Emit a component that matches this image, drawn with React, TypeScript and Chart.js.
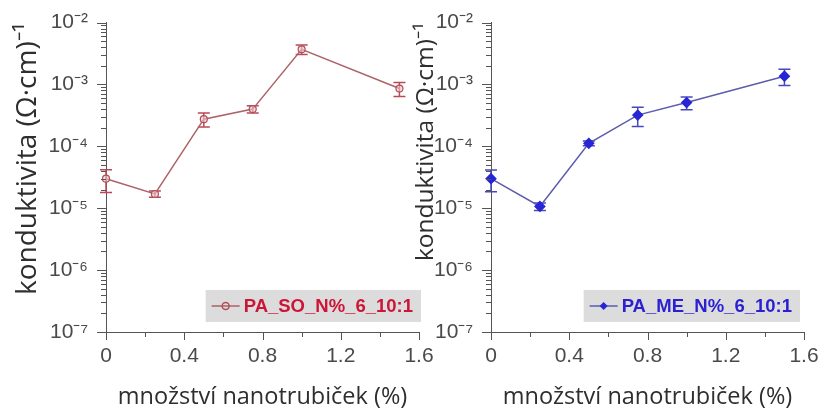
import React, { useEffect, useRef } from 'react';
import { Chart, registerables } from 'chart.js';

Chart.register(...registerables);

// ---- data ----
const xValues = [0, 0.25, 0.5, 0.75, 1.0, 1.5];
const soValues = [3.0e-5, 1.7e-5, 2.75e-4, 4.0e-4, 3.7e-3, 8.6e-4];
const soErrors = [1.2e-5, 0.2e-5, 0.7e-4, 0.55e-4, 0.65e-3, 2.2e-4];
const meValues = [3.0e-5, 1.07e-5, 1.12e-4, 3.2e-4, 5.1e-4, 1.36e-3];
const meErrors = [1.15e-5, 0.15e-5, 0.1e-4, 1.1e-4, 1.2e-4, 0.4e-3];
const soLabel = 'PA_SO_N%_6_10:1';
const meLabel = 'PA_ME_N%_6_10:1';
const xMajorTicks = [0, 0.4, 0.8, 1.2, 1.6];
const xMajorLabels = ['0', '0.4', '0.8', '1.2', '1.6'];
const xMinorTicks = [0.2, 0.6, 1.0, 1.4];
const yDecades = [-7, -6, -5, -4, -3, -2];
const yMinorMultipliers = [2, 3, 4, 5, 6, 7, 8, 9];
const yTitle = 'konduktivita (Ω·cm)⁻¹';
const xTitle = 'množství nanotrubiček (%)';

const SUP: Record<string, string> = {
  '-': '⁻', '0': '⁰', '1': '¹', '2': '²', '3': '³', '4': '⁴',
  '5': '⁵', '6': '⁶', '7': '⁷', '8': '⁸', '9': '⁹',
};
const sup = (n: number) => String(n).split('').map((c) => SUP[c] || c).join('');

const AXIS_COLOR = '#555555';
const TICK_FONT = { family: '"Liberation Sans", Arial, sans-serif', size: 21 };
const X_TITLE_FONT = { family: '"Open Sans", sans-serif', size: 23.5 };

const errorBarsPlugin = {
  id: 'errorBars',
  beforeDatasetsDraw(chart: any, _args: any, opts: any) {
    const { ctx, scales } = chart;
    const meta = chart.getDatasetMeta(0);
    const data = chart.data.datasets[0].data;
    ctx.save();
    ctx.strokeStyle = opts.color;
    ctx.lineWidth = 1.5;
    data.forEach((p: any, i: number) => {
      const err = opts.errors[i];
      const x = meta.data[i].x;
      const yTop = scales.y.getPixelForValue(p.y + err);
      const yBot = scales.y.getPixelForValue(p.y - err);
      ctx.beginPath();
      ctx.moveTo(x, yTop);
      ctx.lineTo(x, yBot);
      ctx.moveTo(x - 6, yTop);
      ctx.lineTo(x + 6, yTop);
      ctx.moveTo(x - 6, yBot);
      ctx.lineTo(x + 6, yBot);
      ctx.stroke();
    });
    ctx.restore();
  },
};

const axisTicksPlugin = {
  id: 'axisTicks',
  afterDraw(chart: any) {
    const { ctx, scales, chartArea } = chart;
    ctx.save();
    ctx.strokeStyle = AXIS_COLOR;
    ctx.lineWidth = 1;
    scales.y.ticks.forEach((t: any) => {
      const y = Math.round(scales.y.getPixelForValue(t.value)) + 0.5;
      const len = t.major ? 9 : 5;
      ctx.beginPath();
      ctx.moveTo(chartArea.left, y);
      ctx.lineTo(chartArea.left - len, y);
      ctx.stroke();
    });
    scales.x.ticks.forEach((t: any) => {
      const x = Math.round(scales.x.getPixelForValue(t.value)) + 0.5;
      const len = t.major ? 8 : 5;
      ctx.beginPath();
      ctx.moveTo(x, chartArea.bottom);
      ctx.lineTo(x, chartArea.bottom + len);
      ctx.stroke();
    });
    ctx.restore();
  },
};

const panelLegendPlugin = {
  id: 'panelLegend',
  afterDraw(chart: any, _args: any, opts: any) {
    const { ctx, chartArea } = chart;
    const ds = chart.data.datasets[0];
    ctx.save();
    ctx.font = 'bold 18.5px "Liberation Sans", Arial, sans-serif';
    const tw = ctx.measureText(ds.label).width;
    const h = 32;
    const w = 6 + 28 + 4 + tw + 8;
    const right = chartArea.right + opts.dx;
    const bottom = chartArea.bottom - 10;
    const left = right - w;
    const top = bottom - h;
    ctx.fillStyle = '#dcdcdc';
    ctx.fillRect(left, top, w, h);
    const cy = top + h / 2;
    ctx.strokeStyle = ds.borderColor;
    ctx.lineWidth = 1.5;
    ctx.beginPath();
    ctx.moveTo(left + 6, cy);
    ctx.lineTo(left + 34, cy);
    ctx.stroke();
    const mx = left + 20;
    if (ds.pointStyle === 'rectRot') {
      ctx.fillStyle = ds.pointBackgroundColor;
      ctx.beginPath();
      ctx.moveTo(mx, cy - 4);
      ctx.lineTo(mx + 4, cy);
      ctx.lineTo(mx, cy + 4);
      ctx.lineTo(mx - 4, cy);
      ctx.closePath();
      ctx.fill();
    } else {
      ctx.strokeStyle = ds.pointBorderColor;
      ctx.beginPath();
      ctx.arc(mx, cy, 3.5, 0, Math.PI * 2);
      ctx.stroke();
    }
    ctx.fillStyle = opts.textColor;
    ctx.textBaseline = 'middle';
    ctx.textAlign = 'left';
    ctx.fillText(ds.label, left + 38, cy + 1);
    ctx.restore();
  },
};

type Panel = {
  label: string;
  values: number[];
  errors: number[];
  lineColor: string;
  pointStyle: string;
  pointRadius: number;
  pointBg: string;
  pointBorder: string;
  errColor: string;
  textColor: string;
  yWidth: number;
  padRight: number;
  titlePad: number;
  titleSize: number;
  legendDx: number;
};

function makeConfig(p: Panel): any {
  return {
    type: 'line',
    data: {
      datasets: [
        {
          label: p.label,
          data: xValues.map((x, i) => ({ x, y: p.values[i] })),
          borderColor: p.lineColor,
          borderWidth: 1.5,
          pointStyle: p.pointStyle,
          pointRadius: p.pointRadius,
          pointBackgroundColor: p.pointBg,
          pointBorderColor: p.pointBorder,
          pointBorderWidth: 1.2,
          tension: 0,
          clip: false,
        },
      ],
    },
    options: {
      responsive: false,
      animation: false,
      devicePixelRatio: 1,
      layout: { padding: { top: 21, right: p.padRight, left: 0, bottom: 0 } },
      plugins: {
        legend: { display: false },
        tooltip: { enabled: false },
        errorBars: { errors: p.errors, color: p.errColor },
        panelLegend: { textColor: p.textColor, dx: p.legendDx },
      },
      scales: {
        x: {
          type: 'linear',
          min: 0,
          max: 1.6,
          afterBuildTicks: (s: any) => {
            s.ticks = [
              ...xMajorTicks.map((v) => ({ value: v, major: true })),
              ...xMinorTicks.map((v) => ({ value: v, major: false })),
            ];
          },
          ticks: {
            autoSkip: false,
            maxRotation: 0,
            padding: 4,
            color: '#4a4a4a',
            font: TICK_FONT,
            callback: (v: number) => {
              const idx = xMajorTicks.findIndex((m) => Math.abs(m - v) < 1e-9);
              return idx >= 0 ? xMajorLabels[idx] : '';
            },
          },
          grid: { display: false },
          border: { display: true, color: AXIS_COLOR, width: 1 },
          title: {
            display: true,
            text: xTitle,
            color: '#2e2e2e',
            font: X_TITLE_FONT,
            padding: { top: 0, bottom: 3 },
          },
          afterFit: (s: any) => {
            s.height = 82;
          },
        },
        y: {
          type: 'logarithmic',
          min: 1e-7,
          max: 1e-2,
          afterBuildTicks: (s: any) => {
            const t: any[] = [];
            yDecades.forEach((d) => {
              t.push({ value: Math.pow(10, d), major: true });
              if (d < -2) {
                yMinorMultipliers.forEach((m) => t.push({ value: m * Math.pow(10, d), major: false }));
              }
            });
            s.ticks = t;
          },
          ticks: {
            autoSkip: false,
            padding: 10,
            color: '#4a4a4a',
            font: TICK_FONT,
            callback: (v: number, i: number, ticks: any[]) =>
              ticks[i].major ? '10' + sup(Math.round(Math.log10(v))) : '',
          },
          grid: { display: false },
          border: { display: true, color: AXIS_COLOR, width: 1 },
          title: {
            display: true,
            text: yTitle,
            align: 'end',
            color: '#2e2e2e',
            font: { family: '"Open Sans", sans-serif', size: p.titleSize },
            padding: { top: p.titlePad, bottom: 0 },
          },
          afterFit: (s: any) => {
            s.width = p.yWidth;
          },
        },
      },
    },
    plugins: [errorBarsPlugin, axisTicksPlugin, panelLegendPlugin],
  };
}

function ChartPanel({ panel, left, width }: { panel: Panel; left: number; width: number }) {
  const ref = useRef<HTMLCanvasElement | null>(null);
  useEffect(() => {
    if (!ref.current) return;
    const chart = new Chart(ref.current, makeConfig(panel));
    return () => chart.destroy();
  }, [panel]);
  return (
    <canvas
      ref={ref}
      width={width}
      height={414}
      style={{ position: 'absolute', left, top: 0, width, height: 414 }}
    />
  );
}

const soPanel: Panel = {
  label: soLabel,
  values: soValues,
  errors: soErrors,
  lineColor: '#ad6266',
  pointStyle: 'circle',
  pointRadius: 3.5,
  pointBg: 'rgba(240,200,205,0.6)',
  pointBorder: '#b0505a',
  errColor: '#b84a58',
  textColor: '#cc1638',
  yWidth: 106,
  padRight: 21,
  titlePad: 11,
  titleSize: 28,
  legendDx: 2,
};

const mePanel: Panel = {
  label: meLabel,
  values: meValues,
  errors: meErrors,
  lineColor: '#5c5cae',
  pointStyle: 'rectRot',
  pointRadius: 5,
  pointBg: '#2626d6',
  pointBorder: '#2626d6',
  errColor: '#4848b8',
  textColor: '#2a1fd2',
  yWidth: 91,
  padRight: 18,
  titlePad: 11,
  titleSize: 24.5,
  legendDx: -4,
};

export default function App() {
  return (
    <div style={{ position: 'absolute', left: 0, top: 0, width: 822, height: 414, background: '#fff' }}>
      <ChartPanel panel={soPanel} left={0} width={440} />
      <ChartPanel panel={mePanel} left={400} width={422} />
    </div>
  );
}
